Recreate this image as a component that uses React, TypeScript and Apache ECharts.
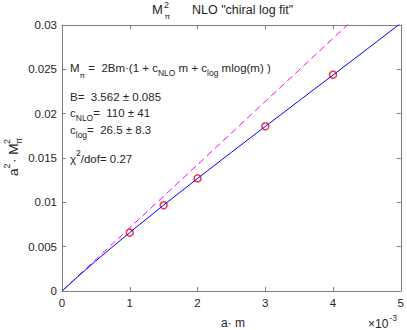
import React, { useEffect, useRef } from "react";
import * as echarts from "echarts";

// ---- data ----
const xTickLabels = ["0", "1", "2", "3", "4", "5"];
const dataM = [0.001, 0.0015, 0.002, 0.003, 0.004];
const dataMpi2 = [0.00658, 0.00967, 0.0127, 0.01858, 0.0244];
const fitM = [0, 0.00025, 0.0005, 0.001, 0.0015, 0.002, 0.0025, 0.003, 0.0035, 0.004, 0.0045, 0.005];
const fitMpi2 = [0, 0.00173, 0.0034, 0.0066, 0.00969, 0.01269, 0.01564, 0.01856, 0.02146, 0.02436, 0.02727, 0.0302];
const loM = [0, 0.005];
const loMpi2 = [0, 0.03562];

const FONT = "'Liberation Sans', Arial, Helvetica, sans-serif";
const TXT = "#262626";
const AX = "#7f7f7f";

function txt(x: number, y: number, text: string, size: number, extra: any = {}) {
  return {
    type: "text",
    silent: true,
    style: {
      x,
      y,
      text,
      fontSize: size,
      fontFamily: FONT,
      fill: TXT,
      align: "left",
      verticalAlign: "middle",
      ...extra,
    },
  };
}

const richStyles = {
  n: { fontSize: 11.5, fontFamily: FONT, fill: TXT, lineHeight: 18, verticalAlign: "middle" },
  sub: { fontSize: 8.5, fontFamily: FONT, fill: TXT, verticalAlign: "bottom", height: 8 },
  subpi: { fontSize: 8, fontFamily: FONT, fill: TXT, verticalAlign: "bottom", height: 3 },
  sup: { fontSize: 8.5, fontFamily: FONT, fill: TXT, verticalAlign: "top", height: 6 },
};

function rich(x: number, y: number, text: string) {
  return {
    type: "text",
    silent: true,
    style: {
      x,
      y,
      text,
      rich: richStyles,
      fontSize: 11.5,
      fontFamily: FONT,
      fill: TXT,
      align: "left",
      verticalAlign: "middle",
    },
  };
}

function makeAxis(pos: string, isX: boolean, showLabel: boolean) {
  const base: any = {
    type: "value",
    position: pos,
    min: 0,
    max: isX ? 0.005 : 0.03,
    interval: isX ? 0.001 : 0.005,
    splitLine: { show: false },
    axisLine: { show: true, onZero: false, lineStyle: { color: AX, width: 1 } },
    axisTick: { show: true, inside: true, length: 4, lineStyle: { color: AX, width: 1 } },
    axisLabel: {
      show: showLabel,
      color: TXT,
      fontSize: 11.5,
      fontFamily: FONT,
      margin: isX ? 6 : 5,
    },
  };
  if (isX && showLabel) {
    base.axisLabel.formatter = (v: number) => xTickLabels[Math.round(v / 0.001)] ?? "";
  }
  if (!isX && showLabel) {
    base.axisLabel.formatter = (v: number) => Number(v.toFixed(3)).toString();
  }
  return base;
}

export default function App() {
  const ref = useRef<HTMLDivElement>(null);
  useEffect(() => {
    if (!ref.current) return;
    const chart = echarts.init(ref.current, undefined, { renderer: "svg" });
    const option: any = {
      animation: false,
      backgroundColor: "#ffffff",
      grid: { left: 62, right: 4, top: 25, bottom: 39, containLabel: false },
      xAxis: [makeAxis("bottom", true, true), makeAxis("top", true, false)],
      yAxis: [makeAxis("left", false, true), makeAxis("right", false, false)],
      series: [
        {
          type: "scatter",
          data: dataM.map((m, i) => [m, dataMpi2[i]]),
          symbol: "circle",
          symbolSize: 7,
          itemStyle: { color: "rgba(0,0,0,0)", borderColor: "#ff0000", borderWidth: 1.5 },
          z: 1,
        },
        {
          type: "line",
          data: loM.map((m, i) => [m, loMpi2[i]]),
          showSymbol: false,
          symbol: "none",
          lineStyle: { color: "#ff00ff", width: 1, type: [7, 4] },
          clip: true,
          z: 2,
        },
        {
          type: "line",
          data: fitM.map((m, i) => [m, fitMpi2[i]]),
          showSymbol: false,
          symbol: "none",
          smooth: false,
          lineStyle: { color: "#0000ff", width: 1 },
          clip: true,
          z: 3,
        },
      ],
      graphic: [
        // title
        txt(152, 9.5, "M", 13),
        txt(164, 5, "2", 9),
        txt(164.5, 16.5, "π", 8),
        txt(192, 9.5, 'NLO "chiral log fit"', 12.5),
        // annotations
        rich(70, 68, "{n|M}{subpi|π}{n| =  2Bm·(1 + c}{sub|NLO}{n| m + c}{sub|log}{n| mlog(m) )}"),
        rich(70, 96.5, "{n|B=  3.562 ± 0.085}"),
        rich(70, 112.5, "{n|c}{sub|NLO}{n|=  110 ± 41}"),
        rich(70, 129.5, "{n|c}{sub|log}{n|=  26.5 ± 8.3}"),
        rich(70, 159, "{n|χ}{sup|2}{n|/dof= 0.27}"),
        // x label
        txt(233, 323, "a· m", 12, { align: "center" }),
        txt(368, 323.5, "×10", 12),
        txt(389.5, 318, "-3", 8.5),
        // y label (rotated)
        {
          type: "group",
          x: 13,
          y: 154,
          rotation: Math.PI / 2,
          silent: true,
          children: [
            txt(-22, 0, "a", 13.5),
            txt(-14.5, -6, "2", 9),
            txt(-9, 0, "· M", 13.5),
            txt(10, -6, "2", 9),
            txt(10, 6, "π", 9),
          ],
        },
      ],
    };
    chart.setOption(option);
    return () => chart.dispose();
  }, []);
  return (
    <div
      ref={ref}
      style={{ position: "fixed", left: 0, top: 0, width: 407, height: 330, background: "#fff" }}
    />
  );
}
